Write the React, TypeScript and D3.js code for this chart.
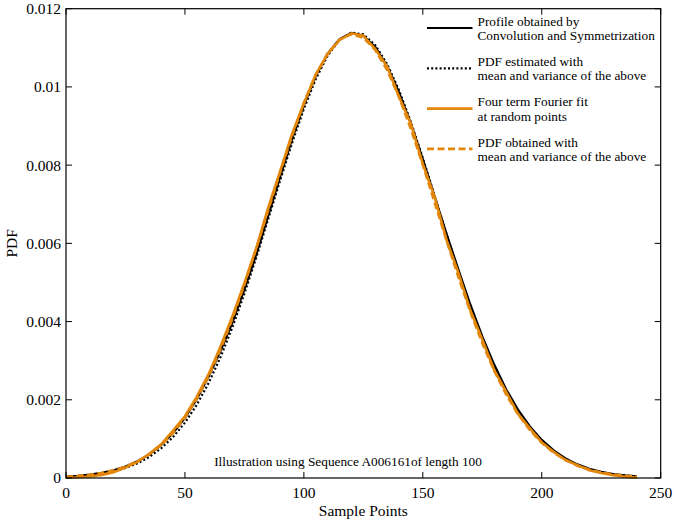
import React from "react";
import * as d3 from "d3";

const xs = d3.range(0, 241, 5);

const profile = [
  0.0000341, 0.0000546, 0.0000857, 0.000132, 0.000199, 0.000294, 0.000426, 0.000605, 0.000843, 0.001151,
  0.00154, 0.00202, 0.0026, 0.00325, 0.00398, 0.00482, 0.00572, 0.00670, 0.00770, 0.00866,
  0.00953, 0.01028, 0.01085, 0.01122, 0.01138, 0.01131, 0.01102, 0.01053, 0.00986, 0.00906,
  0.00815, 0.00719, 0.00624, 0.00532, 0.00443, 0.00362, 0.00290, 0.00227, 0.00175, 0.00132,
  0.000975, 0.000705, 0.0005, 0.000348, 0.000237, 0.000158, 0.000103, 0.0000656, 0.0000413,
];

const profilePdf = [
  0.0000276, 0.0000448, 0.0000713, 0.000111, 0.00017, 0.000255, 0.000374, 0.000538, 0.000758, 0.001046,
  0.001415, 0.001875, 0.002435, 0.003097, 0.003861, 0.004716, 0.005644, 0.006618, 0.007604, 0.008559,
  0.009439, 0.010201, 0.0108, 0.011205, 0.01139, 0.011343, 0.011069, 0.010583, 0.009914, 0.009099,
  0.008184, 0.00721, 0.006226, 0.005266, 0.004365, 0.003544, 0.00282, 0.002199, 0.00168, 0.001257,
  0.000921, 0.000662, 0.000466, 0.000322, 0.000217, 0.000144, 0.0000933, 0.0000593, 0.0000369,
];

const fourierFit = [
  0.00001, 0.00002, 0.00004, 0.00008, 0.00015, 0.00027, 0.00041, 0.00062, 0.00086, 0.00121,
  0.00158, 0.00208, 0.00266, 0.00337, 0.00414, 0.00499, 0.00588, 0.00691, 0.00784, 0.00879,
  0.00958, 0.01032, 0.01084, 0.0112, 0.01137, 0.01131, 0.01097, 0.01052, 0.00975, 0.00905,
  0.00803, 0.00718, 0.00608, 0.00524, 0.00428, 0.00354, 0.00276, 0.00221, 0.00164, 0.00127,
  0.00091, 0.00067, 0.00046, 0.00033, 0.0002, 0.00013, 0.00007, 0.00003, 0.00001,
];

const fourierPdf = [
  0.0000335, 0.0000537, 0.0000845, 0.00013, 0.000197, 0.000292, 0.000424, 0.000604, 0.000843, 0.001152,
  0.001545, 0.002029, 0.002613, 0.003297, 0.004079, 0.004945, 0.005877, 0.006845, 0.007813, 0.008744,
  0.009588, 0.010307, 0.010858, 0.011213, 0.011349, 0.011258, 0.010946, 0.010432, 0.009744, 0.00892,
  0.008005, 0.00704, 0.006069, 0.005128, 0.004246, 0.003447, 0.002742, 0.002138, 0.001633, 0.001224,
  0.000899, 0.000647, 0.000456, 0.000315, 0.000214, 0.000142, 0.0000923, 0.0000589, 0.0000369,
];

const xTicks = [0, 50, 100, 150, 200, 250];
const yTicks = [0, 0.002, 0.004, 0.006, 0.008, 0.01, 0.012];
const yTickLabels = ["0", "0.002", "0.004", "0.006", "0.008", "0.01", "0.012"];

const legendItems = [
  { lines: ["Profile obtained by", "Convolution and Symmetrization"], color: "#000", dash: "", width: 2.2 },
  { lines: ["PDF estimated with", "mean and variance of the above"], color: "#000", dash: "2,2.2", width: 2.2 },
  { lines: ["Four term Fourier fit", "at random points"], color: "#e3870b", dash: "", width: 2.6 },
  { lines: ["PDF obtained with", "mean and variance of the above"], color: "#e3870b", dash: "7,3.5", width: 2.6 },
];

const seriesData = [profile, profilePdf, fourierFit, fourierPdf];

export default function App() {
  const L = 66, R = 660.7, T = 8.7, B = 478;
  const x = d3.scaleLinear().domain([0, 250]).range([L, R]);
  const y = d3.scaleLinear().domain([0, 0.012]).range([B, T]);
  const line = d3.line<number>().x((_, i) => x(xs[i])).y((v) => y(v));
  const font = "'Liberation Serif', 'Times New Roman', serif";
  return (
    <svg width={674} height={523} style={{ position: "absolute", left: 0, top: 0, background: "#fff" }} fontFamily={font}>
      <rect x={0} y={0} width={674} height={523} fill="#fff" />
      {seriesData.map((s, k) => (
        <path key={k} d={line(s) || ""} fill="none" stroke={legendItems[k].color}
          strokeWidth={legendItems[k].width} strokeDasharray={legendItems[k].dash} />
      ))}
      <rect x={L} y={T} width={R - L} height={B - T} fill="none" stroke="#000" strokeWidth={1.2} />
      {xTicks.map((t) => (
        <g key={"x" + t}>
          <line x1={x(t)} x2={x(t)} y1={B} y2={B - 6} stroke="#000" />
          <line x1={x(t)} x2={x(t)} y1={T} y2={T + 6} stroke="#000" />
          <text x={x(t)} y={498} fontSize={15.5} textAnchor="middle">{t}</text>
        </g>
      ))}
      {yTicks.map((t, i) => (
        <g key={"y" + t}>
          <line x1={L} x2={L + 6} y1={y(t)} y2={y(t)} stroke="#000" />
          <line x1={R} x2={R - 6} y1={y(t)} y2={y(t)} stroke="#000" />
          <text x={61} y={y(t)} dy="0.35em" fontSize={15.5} textAnchor="end">{yTickLabels[i]}</text>
        </g>
      ))}
      <text x={(L + R) / 2} y={516} fontSize={15.5} textAnchor="middle">Sample Points</text>
      <text transform={`translate(17,${(T + B) / 2}) rotate(-90)`} fontSize={15.5} textAnchor="middle">PDF</text>
      <text x={348} y={466} fontSize={13.3} textAnchor="middle">Illustration using Sequence A006161of length 100</text>
      {legendItems.map((it, k) => {
        const ly = 28 + k * 40.3;
        return (
          <g key={"l" + k}>
            <line x1={427} x2={472.5} y1={ly} y2={ly} stroke={it.color} strokeWidth={it.width} strokeDasharray={it.dash} />
            <text x={477.5} y={ly - 7} dy="0.35em" fontSize={13.3}>{it.lines[0]}</text>
            <text x={477.5} y={ly + 7.5} dy="0.35em" fontSize={13.3}>{it.lines[1]}</text>
          </g>
        );
      })}
    </svg>
  );
}
